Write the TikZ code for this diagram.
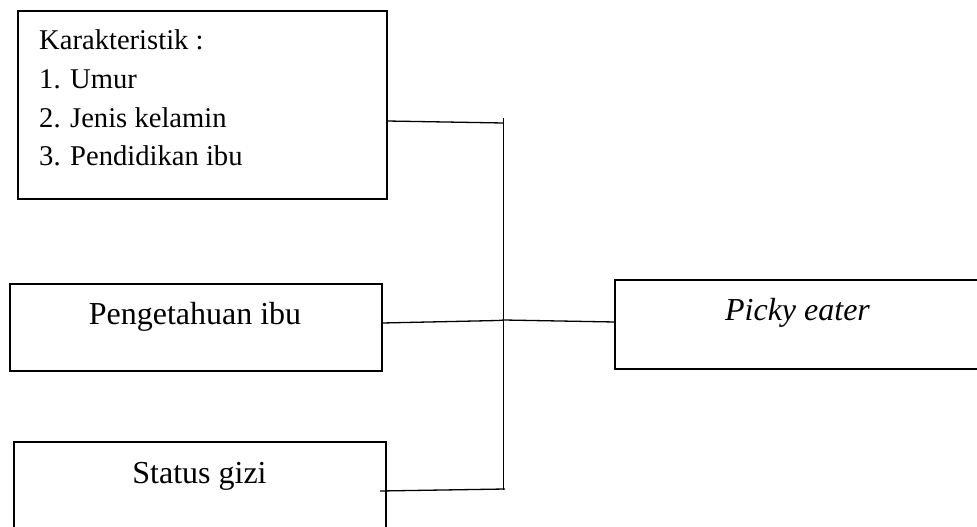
\documentclass[tikz,border=0pt]{standalone}
\usepackage{fontspec}
\setmainfont{Liberation Serif}
\begin{document}
\begin{tikzpicture}[x=1pt,y=-1pt,
  box/.style={draw,line width=1.2pt},
  link/.style={line width=1.3pt},
  small/.style={inner sep=0pt,anchor=base west,font=\fontsize{28.6}{34}\selectfont},
  big/.style={inner sep=0pt,anchor=base,font=\fontsize{32}{38}\selectfont}]
\useasboundingbox (0,0) rectangle (977,527);
% boxes (the last two run past the lower and right edges)
\draw[box] (18,11) rectangle (387,199);
\draw[box] (10,284) rectangle (382,371);
\draw[box] (14,442) rectangle (386,545);
\draw[box] (615,280) rectangle (995,369);
\coordinate (kar) at (387,121);
\coordinate (peng) at (382,323);
\coordinate (gizi) at (380,491);
\coordinate (picky) at (615,322);
% texts
\node[small] (t1) at (39,50) {Karakteristik :};
\node[small] (t2) at (39,88.5) {1. Umur};
\node[small] (t3) at (39,127) {2. Jenis kelamin};
\node[small] (t4) at (39,165.5) {3. Pendidikan ibu};
\node[big] (tp) at (195,324) {Pengetahuan ibu};
\node[big] (tg) at (199.5,483) {Status gizi};
\node[big,font=\fontsize{32}{38}\selectfont\itshape] (tk) at (797.5,320) {Picky eater};
% junction points on the vertical bar
\coordinate (top) at (503.5,118);
\coordinate (bot) at (503.5,490);
\coordinate (j1) at (503.5,123);
\coordinate (j2a) at (498,320.5);
\coordinate (j2b) at (504,320);
\coordinate (j3) at (505,489);
% connectors
\draw[link] (top) -- (bot);
\draw[link] (kar) -- (j1);
\draw[link] (peng) -- (j2a) -- (j2b) -- (picky);
\draw[link] (gizi) -- (j3);
\end{tikzpicture}
\end{document}
